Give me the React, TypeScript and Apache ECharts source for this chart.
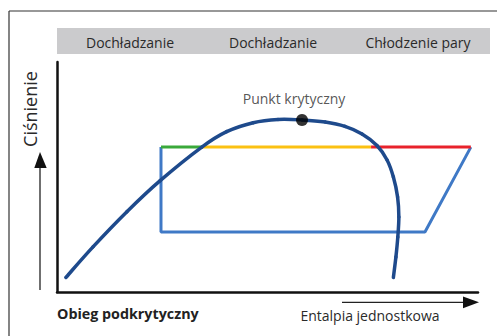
import React, { useEffect, useRef } from "react";
import * as echarts from "echarts";

const bandLabels = ["Dochładzanie", "Dochładzanie", "Chłodzenie pary"];
const yAxisTitle = "Ciśnienie";
const xAxisTitle = "Entalpia jednostkowa";
const cycleTitle = "Obieg podkrytyczny";
const criticalLabel = "Punkt krytyczny";

// saturation dome (enthalpy, pressure) in relative units
const domeCurve: [number, number][] = [
  [2.1, 6.3], [8.55, 19.6], [16.6, 34.9], [24.5, 48.4], [34.4, 63.0],
  [40.3, 69.7], [46.6, 73.6], [52.5, 75.0], [58.2, 74.8], [63.7, 73.9],
  [68.4, 72.0], [72.45, 68.7], [76.0, 63.7], [78.4, 57.4], [79.9, 50.0],
  [80.9, 41.3], [81.2, 32.6], [80.95, 23.9], [80.5, 15.2], [79.9, 6.3],
];
const criticalPoint: [number, number] = [58.2, 74.8];

// cycle: high-pressure segments
const subcoolingSeg: [number, number][] = [[24.7, 63.0], [34.4, 63.0]];
const condensingSeg: [number, number][] = [[34.4, 63.0], [74.6, 63.0]];
const desuperheatSeg: [number, number][] = [[74.6, 63.0], [98.3, 63.0]];
// compression, evaporation, expansion
const cycleBlue: [number, number][] = [[98.3, 63.0], [87.4, 26.1], [24.7, 26.1], [24.7, 63.0]];

const FONT = "'Open Sans', 'Noto Sans', sans-serif";

export default function App() {
  const ref = useRef<HTMLDivElement>(null);
  useEffect(() => {
    if (!ref.current) return;
    const chart = echarts.init(ref.current, undefined, { renderer: "svg" });
    const bandCenters = [130, 273, 418];

    // smooth dome drawn as Catmull-Rom bezier segments through the data points (mapped by the axes)
    const renderDome = (params: any, api: any) => {
      if (params.dataIndex !== 0) return null;
      const p = domeCurve.map((d) => api.coord(d));
      const n = p.length;
      const children: any[] = [];
      for (let i = 0; i < n - 1; i++) {
        const p0 = p[Math.max(0, i - 1)];
        const p1 = p[i];
        const p2 = p[i + 1];
        const p3 = p[Math.min(n - 1, i + 2)];
        children.push({
          type: "bezierCurve",
          shape: {
            x1: p1[0], y1: p1[1], x2: p2[0], y2: p2[1],
            cpx1: p1[0] + (p2[0] - p0[0]) / 6, cpy1: p1[1] + (p2[1] - p0[1]) / 6,
            cpx2: p2[0] - (p3[0] - p1[0]) / 6, cpy2: p2[1] - (p3[1] - p1[1]) / 6,
          },
          style: { stroke: "#1e4a8c", lineWidth: 3.5, fill: "none", lineCap: "round" },
        });
      }
      return { type: "group", children };
    };

    chart.setOption({
      animation: false,
      backgroundColor: "#ffffff",
      grid: { left: 57, right: 19, top: 62, bottom: 44 },
      xAxis: {
        type: "value", min: 0, max: 100,
        axisLine: { show: true, lineStyle: { color: "#111", width: 2.5 } },
        axisTick: { show: false }, axisLabel: { show: false }, splitLine: { show: false },
      },
      yAxis: {
        type: "value", min: 0, max: 100,
        axisLine: { show: true, lineStyle: { color: "#111", width: 2.5 } },
        axisTick: { show: false }, axisLabel: { show: false }, splitLine: { show: false },
      },
      graphic: [
        { type: "line", shape: { x1: 9, y1: 11, x2: 497, y2: 11 }, style: { stroke: "#333", lineWidth: 1.2 } },
        { type: "line", shape: { x1: 9, y1: 11, x2: 9, y2: 336 }, style: { stroke: "#333", lineWidth: 1.2 } },
        { type: "rect", shape: { x: 57, y: 28, width: 433, height: 26 }, style: { fill: "#cbcbcd" } },
        ...bandLabels.map((t, i) => ({
          type: "text", x: bandCenters[i], y: 42,
          style: { text: t, fill: "#2a2a2a", font: `14px ${FONT}`, textAlign: "center", textVerticalAlign: "middle" },
        })),
        {
          type: "text", x: 30, y: 109, rotation: Math.PI / 2,
          style: { text: yAxisTitle, fill: "#2a2a2a", font: `18px ${FONT}`, textAlign: "center", textVerticalAlign: "middle" },
        },
        { type: "line", shape: { x1: 40, y1: 290, x2: 40, y2: 166 }, style: { stroke: "#222", lineWidth: 1.3 } },
        { type: "polygon", shape: { points: [[34.3, 168], [40, 152], [46.7, 168]] }, style: { fill: "#111" } },
        { type: "line", shape: { x1: 342, y1: 302.3, x2: 465, y2: 302.3 }, style: { stroke: "#222", lineWidth: 1.3 } },
        { type: "polygon", shape: { points: [[463, 296.5], [479, 302.3], [463, 308.3]] }, style: { fill: "#111" } },
        {
          type: "text", x: 57, y: 313,
          style: { text: cycleTitle, fill: "#222", font: `bold 14.3px ${FONT}`, textAlign: "left", textVerticalAlign: "middle" },
        },
        {
          type: "text", x: 370, y: 315,
          style: { text: xAxisTitle, fill: "#2a2a2a", font: `14px ${FONT}`, textAlign: "center", textVerticalAlign: "middle" },
        },
      ],
      series: [
        { type: "line", data: cycleBlue, symbol: "none", lineStyle: { color: "#3f79c6", width: 3 }, z: 2 },
        { type: "line", data: subcoolingSeg, symbol: "none", lineStyle: { color: "#3aa93a", width: 3 }, z: 3 },
        { type: "line", data: condensingSeg, symbol: "none", lineStyle: { color: "#fbc112", width: 3 }, z: 3 },
        { type: "line", data: desuperheatSeg, symbol: "none", lineStyle: { color: "#e8222b", width: 3 }, z: 3 },
        {
          type: "custom", data: domeCurve, encode: { x: 0, y: 1 }, renderItem: renderDome,
          clip: false, z: 4, silent: true,
        },
        {
          type: "scatter", data: [criticalPoint], symbolSize: 12, itemStyle: { color: "#000" }, z: 5,
          label: {
            show: true, formatter: criticalLabel, position: "top", distance: 8, offset: [-8, 0],
            color: "#2a2a2a", fontSize: 14, fontFamily: FONT,
          },
        },
      ],
    });
    return () => chart.dispose();
  }, []);
  return <div ref={ref} style={{ position: "fixed", left: 0, top: 0, width: 497, height: 336 }} />;
}
